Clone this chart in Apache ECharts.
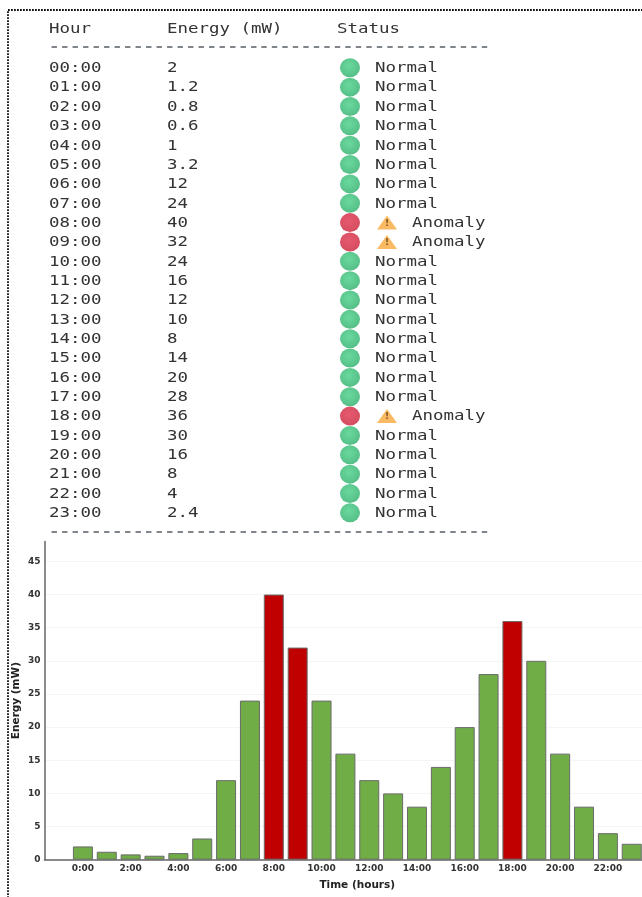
<!DOCTYPE html>
<html><head><meta charset="utf-8">
<style>html,body{margin:0;padding:0;background:#fff;overflow:hidden}#c{width:642px;height:897px;filter:blur(0.5px)}</style>
<script src="https://cdn.jsdelivr.net/npm/echarts@6/dist/echarts.min.js"></script>
</head><body><div id="c"></div>
<script>
const hours = ['00:00','01:00','02:00','03:00','04:00','05:00','06:00','07:00','08:00','09:00','10:00','11:00','12:00','13:00','14:00','15:00','16:00','17:00','18:00','19:00','20:00','21:00','22:00','23:00'];
const energy = [2,1.2,0.8,0.6,1,3.2,12,24,40,32,24,16,12,10,8,14,20,28,36,30,16,8,4,2.4];
const status = ['Normal','Normal','Normal','Normal','Normal','Normal','Normal','Normal','Anomaly','Anomaly','Normal','Normal','Normal','Normal','Normal','Normal','Normal','Normal','Anomaly','Normal','Normal','Normal','Normal','Normal'];
const headers = ['Hour','Energy (mW)','Status'];
const xTickHours = [0,2,4,6,8,10,12,14,16,18,20,22];

const chart = echarts.init(document.getElementById('c'), null, {renderer:'canvas', width:642, height:897});
const MONO = '"DejaVu Sans Mono", monospace';
const SANS = '"DejaVu Sans", sans-serif';
const rowTop = 67.8, rowGap = 19.35;
const textEl = (x, y, t, fill, weight) => ({type:'text', x, y, scaleX:1.245, silent:true,
  style:{text:t, fill:fill||'#333', font:(weight||'normal')+' 14px '+MONO, textVerticalAlign:'middle', textAlign:'left'}});
const gfx = [
  {type:'rect', shape:{x:8,y:10,width:720,height:960}, style:{fill:'none', stroke:'#111', lineWidth:1.8, lineDash:[1.8,1.2]}, silent:true},
  textEl(49,29.5,headers[0]), textEl(167,29.5,headers[1]), textEl(337,29.5,headers[2]),
  textEl(49,47.5,'-'.repeat(42),'#7f858a','bold'), textEl(49,532.5,'-'.repeat(42),'#7f858a','bold')
];
hours.forEach((h,i)=>{
  const y = rowTop + 0.7 + i*rowGap;
  gfx.push(textEl(49,y,h), textEl(167,y,String(energy[i])));
  gfx.push(textEl(status[i]==='Anomaly'?412:375, y, status[i]));
});
const ball = (c0,c1)=>({type:'radial',x:0.45,y:0.4,r:0.65,colorStops:[{offset:0,color:c0},{offset:1,color:c1}]});
const idx = s => status.map((v,i)=>v===s?i:-1).filter(i=>i>=0);

chart.setOption({
  animation:false,
  backgroundColor:'#fff',
  graphic:gfx,
  grid:[
    {left:44.5, right:0, top:541.5, bottom:37.3, containLabel:false, outerBoundsMode:'none'},
    {left:350, width:37, top:rowTop, height:rowGap*23, outerBoundsMode:'none'}
  ],
  xAxis:[
    {type:'value', gridIndex:0, min:-1.61, max:23.43, nameMoveOverlap:false,
      axisLine:{show:true,onZero:false,lineStyle:{color:'#666',width:1.5}}, axisTick:{show:false}, splitLine:{show:false},
      axisLabel:{customValues:xTickHours, formatter:v=>v+':00', color:'#333', fontFamily:SANS, fontWeight:'bold', fontSize:9, margin:4},
      name:'Time (hours)', nameLocation:'middle', nameGap:20, nameTextStyle:{color:'#222',fontFamily:SANS,fontWeight:'bold',fontSize:10.5,padding:[0,0,0,28]}},
    {type:'category', gridIndex:1, data:['dot','warn'], boundaryGap:false, show:false}
  ],
  yAxis:[
    {type:'value', gridIndex:0, min:0, max:48, interval:5, nameMoveOverlap:false,
      axisLine:{show:true,onZero:false,lineStyle:{color:'#666',width:1.5}}, axisTick:{show:false},
      splitLine:{show:true,showMaxLine:false,lineStyle:{color:'#f5f5f5',width:1}},
      axisLabel:{showMaxLabel:false, color:'#333', fontFamily:SANS, fontWeight:'bold', fontSize:9, margin:4},
      name:'Energy (mW)', nameLocation:'middle', nameGap:23, nameTextStyle:{color:'#222',fontFamily:SANS,fontWeight:'bold',fontSize:10.5}},
    {type:'category', gridIndex:1, data:hours, inverse:true, boundaryGap:false, show:false}
  ],
  series:[
    {type:'bar', xAxisIndex:0, yAxisIndex:0, barWidth:20, clip:false,
      data:energy.map((v,i)=>({value:[i,v], itemStyle:{color:status[i]==='Anomaly'?'#C00000':'#70AD47', borderColor:'#6a6a6a', borderWidth:1}}))},
    {type:'scatter', xAxisIndex:1, yAxisIndex:1, symbol:'circle', symbolSize:[20,19], silent:true,
      itemStyle:{color:ball('#45d086','#28ab66')}, data:idx('Normal').map(i=>[0,i])},
    {type:'scatter', xAxisIndex:1, yAxisIndex:1, symbol:'circle', symbolSize:[20,19], silent:true,
      itemStyle:{color:ball('#e0304a','#c81e38')}, data:idx('Anomaly').map(i=>[0,i])},
    {type:'scatter', xAxisIndex:1, yAxisIndex:1, symbol:'triangle', symbolSize:[20,14], silent:true,
      itemStyle:{color:'#f9a83c'},
      label:{show:true, position:'inside', offset:[0,1], formatter:'!', color:'#5a3a10', fontFamily:SANS, fontWeight:'bold', fontSize:9},
      data:idx('Anomaly').map(i=>[1,i])}
  ]
});
</script></body></html>
